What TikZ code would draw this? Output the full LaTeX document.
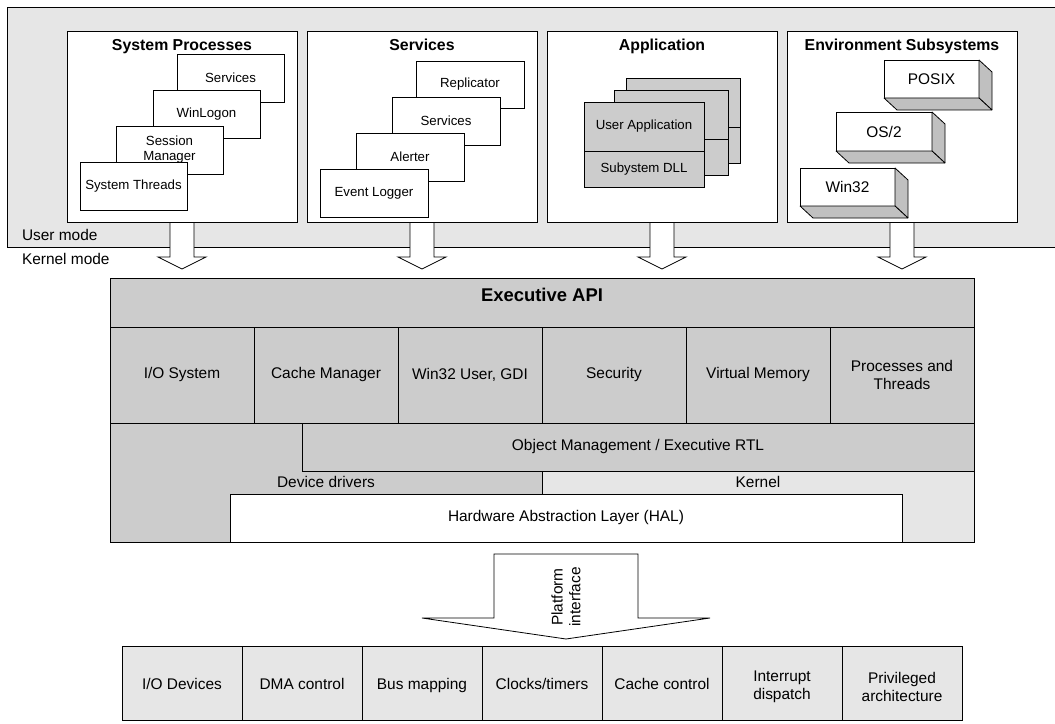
\documentclass[tikz,border=0pt]{standalone}
\usepackage{fontspec}
\setmainfont{Liberation Sans}
\usetikzlibrary{calc}
\definecolor{paleg}{HTML}{E6E6E6}
\definecolor{midg}{HTML}{CCCCCC}
\definecolor{sideg}{HTML}{C0C0C0}
\newcommand\lblfont{\fontsize{15.5}{18}\selectfont}
\newcommand\smlfont{\fontsize{13.3}{15}\selectfont}
\newcommand\ttlfont{\fontsize{15.9}{18}\selectfont\bfseries}
\newcommand\apifont{\fontsize{18.5}{21}\selectfont\bfseries}
\begin{document}
\begin{tikzpicture}[x=1bp,y=-1bp,line width=0.8bp,
  every node/.style={inner sep=0pt,outer sep=0pt,font=\lblfont},
  rect/.style={draw,anchor=north west,align=center},
  card/.style={rect,fill=white,font=\smlfont},
  layer/.style={rect,fill=midg,font=\smlfont},
  cell/.style={rect,fill=midg,minimum width=144bp,minimum height=96bp},
  hwcell/.style={rect,fill=paleg,minimum width=120bp,minimum height=74bp},
  oneline/.style={text height=1.24em,text depth=0pt},
  title/.style={font=\ttlfont,anchor=base},
  side/.style={draw,fill=sideg,line join=bevel}]
\useasboundingbox (0,0) rectangle (1055,724);

% user-mode band
\node[rect,fill=paleg,minimum width=1052bp,minimum height=240bp] (usr) at (7,7) {};
\node[anchor=west] (umode) at (22,235) {User mode};
\node[anchor=west] (kmode) at (22,259) {Kernel mode};

% user-mode columns (outlines only; arrows first so the boxes sit on top)
\node[rect,minimum width=230bp,minimum height=191bp] (sp) at (67,31) {};
\node[rect,minimum width=230bp,minimum height=191bp] (sv) at (307,31) {};
\node[rect,minimum width=230bp,minimum height=191bp] (ap) at (547,31) {};
\node[rect,minimum width=230bp,minimum height=191bp] (es) at (787,31) {};

% block arrows into the executive
\foreach \c in {sp,sv,ap,es}{
  \draw[fill=white] ($(\c.south)+(-12,0)$) -- ($(\c.south)+(-12,35)$)
    -- ($(\c.south)+(-24,35)$) -- ($(\c.south)+(0,47)$)
    -- ($(\c.south)+(24,35)$) -- ($(\c.south)+(12,35)$)
    -- ($(\c.south)+(12,0)$);
}
\foreach \c in {sp,sv,ap,es}{
  \node[rect,fill=white,minimum width=230bp,minimum height=191bp] at (\c.north west) {};
}

% System Processes
\node[title] (spt) at (182,51) {System Processes};
\node[card,minimum width=107bp,minimum height=48bp] (sp1) at (177,54) {Services};
\node[card,minimum width=107bp,minimum height=48bp] (sp2) at (153,90) {WinLogon};
\node[card,minimum width=107bp,minimum height=48bp] (sp3) at (116,126) {Session\\Manager};
\node[card,minimum width=107bp,minimum height=48bp] (sp4) at (80,162) {System Threads};

% Services
\node[title] (svt) at (422,51) {Services};
\node[card,minimum width=108bp,minimum height=47bp] (sv1) at (416,61) {Replicator};
\node[card,minimum width=108bp,minimum height=48bp] (sv2) at (392,97) {Services};
\node[card,minimum width=108bp,minimum height=48bp] (sv3) at (356,133) {Alerter};
\node[card,minimum width=108bp,minimum height=48bp] (sv4) at (320,169) {Event Logger};

% Application
\node[title] (apt) at (662,51) {Application};
\node[layer,minimum width=114bp,minimum height=49bp] (ab1) at (626,78) {};
\node[layer,minimum width=114bp,minimum height=36bp] (ab2) at (626,127) {};
\node[layer,minimum width=114bp,minimum height=49bp] (am1) at (614,90) {};
\node[layer,minimum width=114bp,minimum height=36bp] (am2) at (614,139) {};
\node[layer,minimum width=120bp,minimum height=49bp] (ua) at (584,102) {User Application};
\node[layer,minimum width=120bp,minimum height=36bp] (sd) at (584,151) {Subystem DLL};

% Environment Subsystems
\node[title] (est) at (902,51) {Environment Subsystems};
\node[card,font=\lblfont,minimum width=95bp,minimum height=38bp] (posix) at (884,60) {POSIX};
\node[card,font=\lblfont,minimum width=96bp,minimum height=39bp] (os2) at (836,112) {OS/2};
\node[card,font=\lblfont,minimum width=95bp,minimum height=38bp] (win) at (800,168) {Win32};
\foreach \b in {posix,os2,win}{
  \draw[side] (\b.north east) -- ($(\b.north east)+(13,12)$)
    -- ($(\b.south east)+(13,12)$) -- (\b.south east) -- cycle;
  \draw[side] (\b.south west) -- ($(\b.south west)+(13,12)$)
    -- ($(\b.south east)+(13,12)$) -- (\b.south east) -- cycle;
}

% Executive
\node[rect,fill=midg,minimum width=864bp,minimum height=264bp] (exec) at (110,278) {};
\node[rect,minimum width=864bp,minimum height=49bp] (api) at (110,278) {};
\node[font=\apifont,anchor=base] (apit) at (542,301.5) {Executive API};
\node[cell] (c1) at (110,327) {I/O System};
\node[cell] (c2) at (254,327) {Cache Manager};
\node[cell] (c3) at (398,327) {Win32 User, GDI};
\node[cell] (c4) at (542,327) {Security};
\node[cell] (c5) at (686,327) {Virtual Memory};
\node[cell] (c6) at (830,327) {Processes and\\Threads};
\node[rect,fill=midg,minimum width=672bp,minimum height=48bp] (obj) at (302,423) {Object Management / Executive RTL};
\node[rect,fill=paleg,minimum width=432bp,minimum height=71bp] (ker) at (542,471) {};
\node (dd) at (326,482) {Device drivers};
\node (kt) at (758,482) {Kernel};
\node[rect,fill=white,minimum width=672bp,minimum height=48bp] (hal) at (230,494) {Hardware Abstraction Layer (HAL)};

% platform interface arrow
\coordinate (ptip) at ($(hal.south)+(0,97)$);
\draw[fill=white] ($(hal.south)+(-72,12)$) -- ($(hal.south)+(72,12)$)
  -- ($(hal.south)+(72,76)$) -- ($(hal.south)+(144,76)$) -- (ptip)
  -- ($(hal.south)+(-144,76)$) -- ($(hal.south)+(-72,76)$) -- cycle;
\node[rotate=90,align=center] (pif) at (566,597) {Platform\\interface};

% hardware
\node[hwcell,oneline] (h1) at (122,646) {I/O Devices};
\node[hwcell,oneline] (h2) at (242,646) {DMA control};
\node[hwcell,oneline] (h3) at (362,646) {Bus mapping};
\node[hwcell,oneline] (h4) at (482,646) {Clocks/timers};
\node[hwcell,oneline] (h5) at (602,646) {Cache control};
\node[hwcell] (h6) at (722,646) {};
\node[hwcell] (h7) at (842,646) {};
\node[align=center] (h6t) at ($(h6.center)+(0,4)$) {Interrupt\\dispatch};
\node[align=center] (h7t) at ($(h7.center)+(0,4)$) {Privileged\\architecture};
\end{tikzpicture}
\end{document}
